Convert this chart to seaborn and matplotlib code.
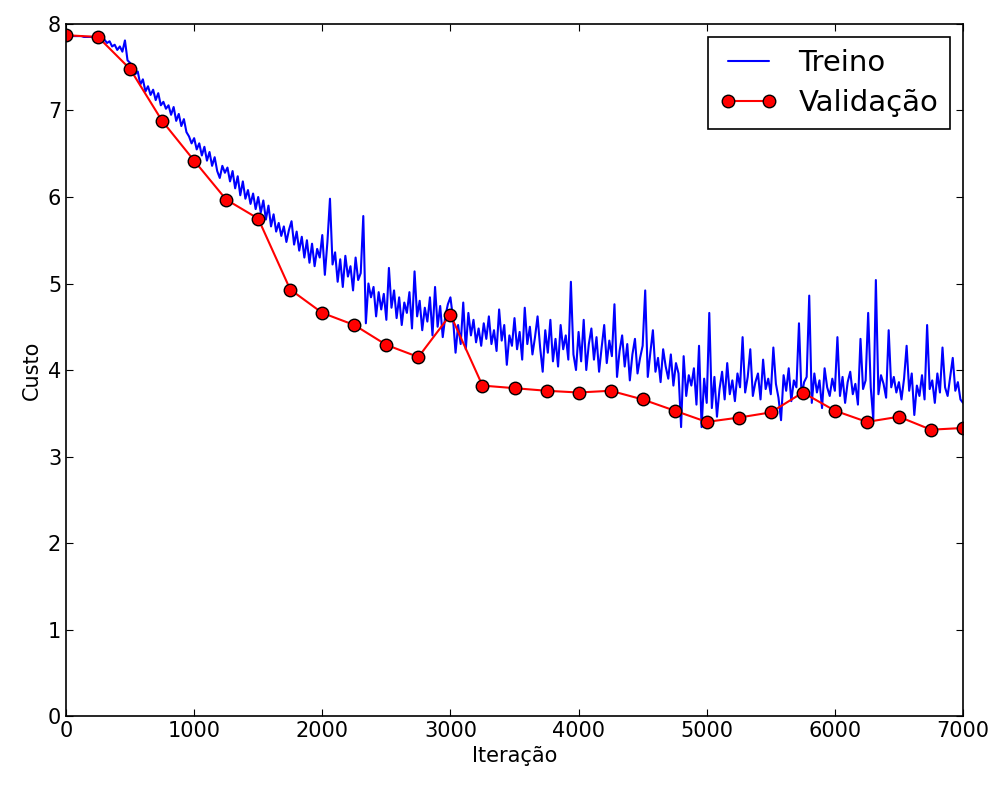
import numpy as np
import pandas as pd
import matplotlib
matplotlib.use('Agg')
import matplotlib.pyplot as plt
import seaborn as sns

# training cost, one value every 20 iterations (0..7000)
train_cost = [
    # 0 - 980
    7.87, 7.87, 7.87, 7.86, 7.86, 7.86, 7.86, 7.85, 7.85, 7.85, 7.85, 7.84, 7.84,
    7.83, 7.80, 7.82, 7.78, 7.80, 7.74, 7.76, 7.70, 7.74, 7.68, 7.81, 7.58,
    7.55, 7.48, 7.42, 7.45, 7.30, 7.36, 7.22, 7.28, 7.18, 7.24, 7.12, 7.20, 7.06,
    7.10, 7.02, 7.06, 6.95, 7.04, 6.88, 6.96, 6.82, 6.90, 6.75, 6.70, 6.62,
    # 1000 - 1980
    6.68, 6.55, 6.62, 6.48, 6.58, 6.42, 6.52, 6.36, 6.46, 6.30, 6.22, 6.36, 6.28,
    6.34, 6.18, 6.30, 6.10, 6.24, 6.02, 6.18, 5.98, 6.08, 5.92, 6.04, 5.86,
    6.00, 5.82, 5.96, 5.74, 5.90, 5.66, 5.80, 5.60, 5.70, 5.55, 5.66, 5.48, 5.62,
    5.72, 5.45, 5.60, 5.38, 5.54, 5.30, 5.50, 5.24, 5.46, 5.20, 5.40, 5.30,
    # 2000 - 2980
    5.56, 5.10, 5.48, 5.98, 5.22, 5.36, 5.02, 5.28, 4.96, 5.32, 5.08, 5.20, 4.92,
    5.30, 5.04, 5.12, 5.78, 4.54, 5.00, 4.84, 4.96, 4.62, 4.90, 4.70, 4.88,
    4.58, 5.18, 4.72, 4.92, 4.60, 4.84, 4.52, 4.78, 4.66, 4.90, 4.48, 5.14, 4.62,
    4.80, 4.46, 4.72, 4.56, 4.84, 4.40, 4.96, 4.50, 4.74, 4.38, 4.62, 4.76,
    # 3000 - 3980
    4.84, 4.60, 4.20, 4.52, 4.30, 4.78, 4.24, 4.66, 4.40, 4.58, 4.32, 4.48, 4.28,
    4.54, 4.36, 4.62, 4.30, 4.46, 4.22, 4.70, 4.34, 4.52, 4.06, 4.40, 4.28,
    4.60, 4.24, 4.44, 4.12, 4.72, 4.30, 4.50, 4.18, 4.38, 4.62, 4.26, 3.98, 4.46,
    4.20, 4.58, 4.10, 4.36, 4.04, 4.52, 4.24, 4.40, 4.12, 5.02, 4.18, 4.00,
    # 4000 - 4980
    4.44, 4.10, 4.58, 4.00, 4.30, 4.48, 4.12, 4.38, 3.98, 4.26, 4.52, 4.08, 4.34,
    4.16, 4.76, 3.92, 4.22, 4.40, 4.04, 4.30, 3.88, 4.18, 4.36, 3.96, 4.14,
    4.28, 4.92, 3.92, 4.20, 4.46, 3.98, 4.14, 3.86, 4.24, 4.04, 3.90, 4.18, 3.82,
    4.08, 3.96, 3.34, 4.16, 3.70, 3.94, 3.82, 4.02, 3.60, 4.28, 3.34, 3.90,
    # 5000 - 5980
    3.62, 4.66, 3.56, 3.92, 3.46, 3.78, 3.98, 3.66, 4.08, 3.72, 3.88, 3.64, 3.96,
    3.80, 4.38, 3.74, 3.92, 4.24, 3.70, 3.86, 3.96, 3.66, 4.12, 3.78, 3.90,
    3.72, 4.26, 3.84, 3.68, 3.42, 3.94, 3.76, 4.02, 3.64, 3.88, 3.80, 4.54, 3.70,
    3.86, 3.92, 4.86, 3.62, 3.96, 3.74, 3.88, 3.56, 4.02, 3.80, 3.70, 3.90,
    # 6000 - 7000
    3.76, 4.38, 3.70, 3.92, 3.62, 3.86, 3.98, 3.72, 3.84, 3.60, 4.36, 3.78, 3.88,
    4.66, 3.80, 3.42, 5.04, 3.72, 3.94, 3.84, 3.68, 4.46, 3.80, 3.92, 3.74,
    3.86, 3.66, 3.90, 4.28, 3.76, 3.96, 3.48, 3.82, 3.70, 3.94, 3.66, 4.52, 3.78,
    3.88, 3.62, 3.96, 3.74, 4.26, 3.80, 3.70, 3.92, 4.14, 3.76, 3.86, 3.66, 3.62,
]
train_iter = list(range(0, 7001, 20))

# validation cost, every 250 iterations
val_iter = list(range(0, 7001, 250))
val_cost = [7.87, 7.85, 7.48, 6.88, 6.42, 5.97, 5.75, 4.93, 4.66, 4.52, 4.29, 4.15,
            4.64, 3.82, 3.79, 3.76, 3.74, 3.76, 3.66, 3.53, 3.40, 3.45, 3.51, 3.74,
            3.53, 3.40, 3.46, 3.31, 3.33]

train_df = pd.DataFrame({'Iteração': train_iter, 'Custo': train_cost})
val_df = pd.DataFrame({'Iteração': val_iter, 'Custo': val_cost})

sns.set_style('white')
plt.rcParams.update({
    'font.family': ['DejaVu Sans'],
    'font.size': 15,
    'text.color': 'black',
    'axes.labelcolor': 'black',
    'xtick.color': 'black',
    'ytick.color': 'black',
    'axes.edgecolor': 'black',
    'axes.linewidth': 1.2,
    'xtick.direction': 'in',
    'ytick.direction': 'in',
    'xtick.top': True,
    'ytick.right': True,
    'xtick.bottom': True,
    'ytick.left': True,
    'xtick.major.size': 5,
    'ytick.major.size': 5,
    'xtick.labelsize': 15,
    'ytick.labelsize': 15,
})

fig = plt.figure(figsize=(10, 7.86), dpi=100)
ax = fig.add_axes([0.066, 0.089, 0.897, 0.8805])

sns.lineplot(data=train_df, x='Iteração', y='Custo', color='blue', lw=1.5,
             label='Treino', ax=ax)
sns.lineplot(data=val_df, x='Iteração', y='Custo', color='red', lw=1.5,
             marker='o', markersize=9, markerfacecolor='red',
             markeredgecolor='black', markeredgewidth=1,
             label='Validação', ax=ax)

ax.set_xlim(0, 7000)
ax.set_ylim(0, 8)
ax.set_xticks(range(0, 7001, 1000))
ax.set_yticks(range(0, 9))
ax.set_xlabel('Iteração', fontsize=15)
ax.set_ylabel('Custo', fontsize=15)

leg = ax.legend(loc='upper right', numpoints=2, fontsize=21, fancybox=False,
                frameon=True, borderaxespad=0.45, borderpad=0.4,
                labelspacing=0.42, handlelength=2.0, handletextpad=0.7)
leg.get_frame().set_edgecolor('black')
leg.get_frame().set_linewidth(1.2)
leg.get_frame().set_alpha(1)

fig.savefig('out.png', dpi=100, facecolor='white')
